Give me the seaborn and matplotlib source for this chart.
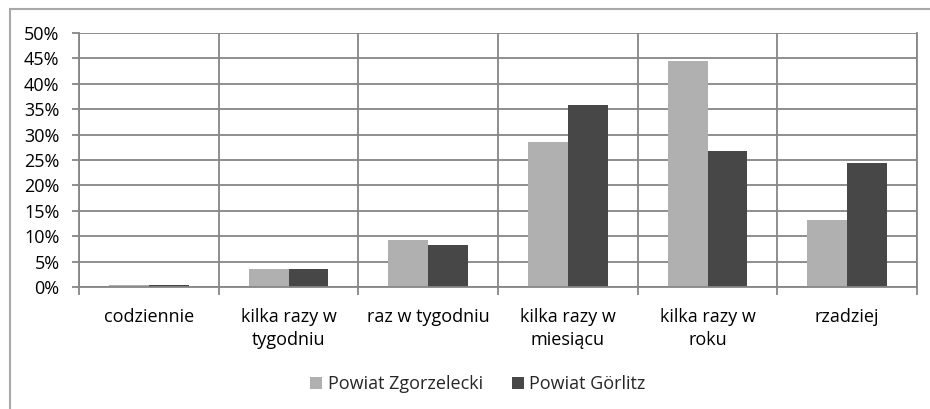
import matplotlib
matplotlib.use("Agg")
import matplotlib.pyplot as plt
import seaborn as sns
import pandas as pd
from matplotlib.patches import Rectangle
from matplotlib.ticker import MultipleLocator, PercentFormatter

categories = ["codziennie", "kilka razy w\ntygodniu", "raz w tygodniu",
              "kilka razy w\nmiesiącu", "kilka razy w\nroku", "rzadziej"]
series = ["Powiat Zgorzelecki", "Powiat Görlitz"]
zgorzelecki = [0.4, 3.5, 9.3, 28.5, 44.5, 13.2]
gorlitz = [0.4, 3.6, 8.2, 35.8, 26.8, 24.5]
colors = ["#b0b0b0", "#474747"]

df = pd.DataFrame({
    "kategoria": categories * 2,
    "powiat": [series[0]] * 6 + [series[1]] * 6,
    "wartosc": zgorzelecki + gorlitz,
})

sns.set_theme(style="white")
plt.rcParams["font.family"] = ["Open Sans", "DejaVu Sans"]
fs = 13

fig = plt.figure(figsize=(9.3, 4.09), dpi=100)
ax = fig.add_axes([79 / 930, 1 - 287 / 409, (917 - 79) / 930, (287 - 33) / 409])

sns.barplot(data=df, x="kategoria", y="wartosc", hue="powiat",
            palette=colors, width=0.57, gap=0, saturation=1,
            linewidth=0, ax=ax)

grid_c = "#868686"
ax.set_xlim(-0.5, 5.5)
ax.set_ylim(0, 50)
ax.yaxis.set_major_locator(MultipleLocator(5))
ax.yaxis.set_major_formatter(PercentFormatter(decimals=0))
ax.set_xticks([i + 0.5 for i in range(-1, 6)], minor=True)
ax.grid(axis="y", which="major", color=grid_c, linewidth=1.3)
ax.grid(axis="x", which="minor", color=grid_c, linewidth=1.3)
ax.grid(axis="x", which="major", visible=False)
ax.set_axisbelow(True)

ax.spines["top"].set_visible(False)
for side in ["left", "bottom", "right"]:
    ax.spines[side].set_color(grid_c)
    ax.spines[side].set_linewidth(1.3)

ax.tick_params(axis="x", which="major", length=0, pad=15, labelsize=fs,
               labelcolor="#000000")
ax.tick_params(axis="x", which="minor", length=6, width=1.3, color=grid_c,
               direction="out", bottom=True)
ax.tick_params(axis="y", length=5, width=1.3, color=grid_c, left=True,
               pad=9, labelsize=fs, labelcolor="#000000")
for lbl in ax.get_xticklabels():
    lbl.set_linespacing(1.35)

ax.set_xlabel("")
ax.set_ylabel("")

ax.legend(title=None, loc="center", bbox_to_anchor=(0.476, -0.382),
          ncol=2, frameon=False, fontsize=fs, handlelength=0.67,
          handleheight=0.67, handletextpad=0.3, columnspacing=1.6)

fig.patches.append(Rectangle((10 / 930, -0.1), 1.2, 1.1 - 9 / 409,
                             transform=fig.transFigure, fill=False,
                             edgecolor="#a8a8a8", linewidth=1.5))

fig.savefig("out.png", dpi=100)
